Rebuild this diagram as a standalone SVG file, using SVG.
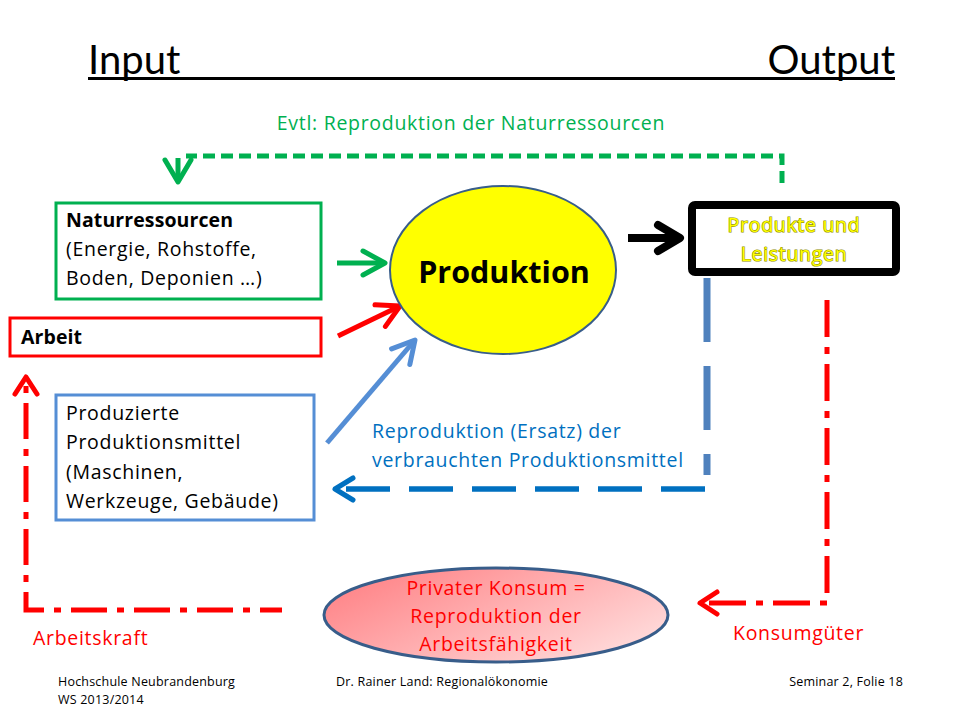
<svg xmlns="http://www.w3.org/2000/svg" width="960" height="720" viewBox="0 0 960 720">
<style>
text{font-family:"Open Sans","Liberation Sans",sans-serif}
.f{font-size:19.5px;letter-spacing:0.7px}
.t{fill:#000}
.b{font-weight:bold;letter-spacing:0.1px}
.foot{font-size:12.5px;letter-spacing:0.2px;fill:#000}
.red{fill:#FF0000}
.box{fill:#fff;stroke-width:3}
.yel{fill:#FFFF00;stroke:#8C8C00;stroke-width:1.2px;paint-order:stroke}
</style>
<defs>
<marker id="mG" markerUnits="userSpaceOnUse" markerWidth="40" markerHeight="40" viewBox="-30 -20 40 40" refX="0" refY="0" orient="auto" overflow="visible"><path d="M-22,-12 L0,0 L-22,12" fill="none" stroke="#00B050" stroke-width="5" stroke-linecap="round" stroke-linejoin="round"/></marker>
<marker id="mR" markerUnits="userSpaceOnUse" markerWidth="40" markerHeight="40" viewBox="-30 -20 40 40" refX="0" refY="0" orient="auto" overflow="visible"><path d="M-22,-12 L0,0 L-22,12" fill="none" stroke="#FF0000" stroke-width="5" stroke-linecap="round" stroke-linejoin="round"/></marker>
<marker id="mL" markerUnits="userSpaceOnUse" markerWidth="40" markerHeight="40" viewBox="-30 -20 40 40" refX="0" refY="0" orient="auto" overflow="visible"><path d="M-22,-12 L0,0 L-22,12" fill="none" stroke="#558ED5" stroke-width="5" stroke-linecap="round" stroke-linejoin="round"/></marker>
<marker id="mB" markerUnits="userSpaceOnUse" markerWidth="40" markerHeight="40" viewBox="-30 -20 40 40" refX="0" refY="0" orient="auto" overflow="visible"><path d="M-18,-11 L0,0 L-18,11" fill="none" stroke="#0070C0" stroke-width="5" stroke-linecap="round" stroke-linejoin="round"/></marker>
<marker id="mK" markerUnits="userSpaceOnUse" markerWidth="40" markerHeight="40" viewBox="-30 -20 40 40" refX="0" refY="0" orient="auto" overflow="visible"><path d="M-22,-13 L0,0 L-22,13" fill="none" stroke="#000" stroke-width="8" stroke-linecap="round" stroke-linejoin="round"/></marker>
<marker id="mRd" markerUnits="userSpaceOnUse" markerWidth="40" markerHeight="40" viewBox="-30 -20 40 40" refX="0" refY="0" orient="auto" overflow="visible"><path d="M-17,-11 L0,0 L-17,11" fill="none" stroke="#FF0000" stroke-width="5" stroke-linecap="round" stroke-linejoin="round"/></marker>
<marker id="mGd" markerUnits="userSpaceOnUse" markerWidth="40" markerHeight="40" viewBox="-30 -20 40 40" refX="0" refY="0" orient="auto" overflow="visible"><path d="M-22,-13 L0,0 L-22,13" fill="none" stroke="#00B050" stroke-width="5" stroke-linecap="round" stroke-linejoin="round"/></marker>
<linearGradient id="pink" x1="0" y1="0" x2="1" y2="0.6">
<stop offset="0" stop-color="#FF7A7E"/>
<stop offset="1" stop-color="#FFD6D6"/>
</linearGradient>
</defs>

<g id="title">
<text x="88" y="74" font-size="40" fill="#000" style="font-family:Lato,'Open Sans',sans-serif">Input</text>
<text x="895" y="74" font-size="40" fill="#000" text-anchor="end" style="font-family:Lato,'Open Sans',sans-serif">Output</text>
<line x1="88" y1="78.5" x2="895" y2="78.5" stroke="#000" stroke-width="3"/>
</g>

<g id="connectors" fill="none">
<path d="M782,183 V156 H186" stroke="#00B050" stroke-width="5" stroke-dasharray="12 6"/>
<line x1="178" y1="158" x2="178" y2="182" stroke="#00B050" stroke-width="5" marker-end="url(#mGd)"/>
<line x1="337" y1="263" x2="385" y2="263" stroke="#00B050" stroke-width="5" marker-end="url(#mG)"/>
<line x1="338" y1="336" x2="400" y2="306" stroke="#FF0000" stroke-width="5" marker-end="url(#mR)"/>
<line x1="327" y1="443" x2="415" y2="340" stroke="#558ED5" stroke-width="5" marker-end="url(#mL)"/>
<line x1="628" y1="238" x2="680" y2="238" stroke="#000" stroke-width="8" marker-end="url(#mK)"/>
<line x1="707" y1="278" x2="707" y2="475" stroke="#4F81BD" stroke-width="7" stroke-dasharray="64 24"/>
<line x1="705" y1="489" x2="335" y2="489" stroke="#0070C0" stroke-width="5.5" stroke-dasharray="44 19" marker-end="url(#mB)"/>
<path d="M827,300 V603 H700" stroke="#FF0000" stroke-width="5" stroke-dasharray="37 10 7 10" marker-end="url(#mRd)"/>
<path d="M282,610 H26 V377" stroke="#FF0000" stroke-width="5" stroke-dasharray="22 10 7 10 36 10 7 10 36 10 7 10 36 10 7 10 36 10 7 10 36 10 7 10 36 10 7 10 36 10 7 10 36 10 7 10" marker-end="url(#mRd)"/>
</g>

<g id="label-evtl">
<text x="471" y="130" text-anchor="middle" class="f" fill="#00B050">Evtl: Reproduktion der Naturressourcen</text>
</g>

<g id="naturressourcen">
<rect x="56" y="203" width="265" height="96" class="box" stroke="#00B050"/>
<text x="66" y="227" class="f t b">Naturressourcen</text>
<text x="66" y="256" class="f t">(Energie, Rohstoffe,</text>
<text x="66" y="285" class="f t">Boden, Deponien …)</text>
</g>

<g id="arbeit">
<rect x="10" y="318" width="311" height="38" class="box" stroke="#FF0000"/>
<text x="21" y="344" class="f t b">Arbeit</text>
</g>

<g id="produktionsmittel">
<rect x="56" y="395" width="258" height="125" class="box" stroke="#558ED5"/>
<text x="66" y="420" class="f t">Produzierte</text>
<text x="66" y="449" class="f t">Produktionsmittel</text>
<text x="66" y="479" class="f t">(Maschinen,</text>
<text x="66" y="508" class="f t">Werkzeuge, Gebäude)</text>
</g>

<g id="produktion">
<ellipse cx="503" cy="270" rx="113" ry="84" fill="#FFFF00" stroke="#385D8A" stroke-width="2"/>
<text x="504" y="283" text-anchor="middle" font-size="30.5" font-weight="bold" fill="#000">Produktion</text>
</g>

<g id="produkte">
<rect x="692" y="205" width="204" height="67" rx="3" fill="#fff" stroke="#000" stroke-width="8"/>
<text x="794" y="232" text-anchor="middle" class="f yel">Produkte und</text>
<text x="794" y="261" text-anchor="middle" class="f yel">Leistungen</text>
</g>

<g id="label-reproduktion">
<text x="372" y="438" class="f" fill="#0070C0">Reproduktion (Ersatz) der</text>
<text x="372" y="467" class="f" fill="#0070C0">verbrauchten Produktionsmittel</text>
</g>

<g id="konsum">
<ellipse cx="496" cy="615" rx="172" ry="47" fill="url(#pink)" stroke="#385D8A" stroke-width="3"/>
<text x="496" y="595" text-anchor="middle" class="f red">Privater Konsum =</text>
<text x="496" y="623" text-anchor="middle" class="f red">Reproduktion der</text>
<text x="496" y="651" text-anchor="middle" class="f red">Arbeitsfähigkeit</text>
</g>

<g id="label-arbeitskraft">
<text x="33" y="645" class="f red">Arbeitskraft</text>
</g>
<g id="label-konsumgueter">
<text x="733" y="640" class="f red">Konsumgüter</text>
</g>

<g id="footer">
<text x="58" y="686" class="foot">Hochschule Neubrandenburg</text>
<text x="58" y="704" class="foot">WS 2013/2014</text>
<text x="336" y="686" class="foot">Dr. Rainer Land: Regionalökonomie</text>
<text x="903" y="686" class="foot" text-anchor="end">Seminar 2, Folie 18</text>
</g>
</svg>
